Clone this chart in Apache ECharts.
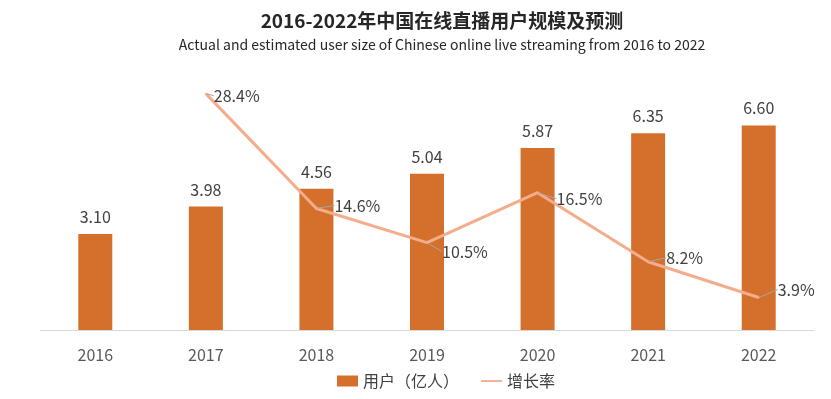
<!DOCTYPE html>
<html>
<head>
<meta charset="utf-8">
<script src="https://cdn.jsdelivr.net/npm/echarts@6/dist/echarts.min.js"></script>
<style>
    html, body { margin: 0; padding: 0; background: #fff; }
    .main { width: 831px; height: 399px; }
</style>
</head>
<body>
<div class="main"></div>
<script>
var years = ['2016', '2017', '2018', '2019', '2020', '2021', '2022'];
var users = [3.10, 3.98, 4.56, 5.04, 5.87, 6.35, 6.60];
var growth = ['-', 28.4, 14.6, 10.5, 16.5, 8.2, 3.9];

// 增长率标签的偏移
var labelDx = [0, -2, 8, 5, 9, 8, 9];
var labelDy = [0, 2, -3, 9, 6, -4, -8];

var myChart = echarts.init(document.querySelector('.main'));
var font = '"Noto Sans CJK SC", "Noto Sans", sans-serif';

var option = {
    textStyle: { fontFamily: font },
    title: {
        text: '2016-2022年中国在线直播用户规模及预测',
        subtext: 'Actual and estimated user size of Chinese online live streaming from 2016 to 2022',
        left: 437,
        textAlign: 'center',
        top: 6,
        itemGap: 8,
        textStyle: { fontFamily: font, fontSize: 19, fontWeight: 'bold', color: '#262626' },
        subtextStyle: { fontFamily: font, fontSize: 14, color: '#262626' }
    },
    legend: {
        top: 368,
        left: 332,
        itemGap: 22,
        itemWidth: 21,
        itemHeight: 11,
        textStyle: { fontFamily: font, fontSize: 16, color: '#404040' },
        data: [
            { name: '用户（亿人）', icon: 'rect' },
            { name: '增长率', icon: 'path://M0,5 L23,5 L23,7 L0,7 Z', itemStyle: { color: '#F3AC8C' } }
        ]
    },
    grid: { left: 40, right: 17, top: 82, bottom: 69 },
    xAxis: {
        type: 'category',
        data: years,
        axisLine: { lineStyle: { color: '#d9d9d9', width: 1 } },
        axisTick: { show: false },
        axisLabel: { color: '#595959', fontSize: 16, margin: 17, fontFamily: font }
    },
    yAxis: [
        { type: 'value', min: 0, max: 8, show: false, splitLine: { show: false } },
        { type: 'value', min: 0, max: 29.8, show: false, splitLine: { show: false } }
    ],
    series: [
        {
            name: '用户（亿人）',
            type: 'bar',
            data: users,
            barWidth: 34,
            itemStyle: { color: '#D4702B' },
            label: {
                show: true,
                position: 'top',
                distance: 9,
                color: '#404040',
                fontSize: 16,
                fontFamily: font,
                formatter: function (p) { return p.value.toFixed(2); }
            }
        },
        {
            name: '增长率',
            type: 'line',
            yAxisIndex: 1,
            data: growth,
            symbol: 'circle',
            symbolSize: 2,
            showSymbol: true,
            lineStyle: { color: '#F3AC8C', width: 3 },
            itemStyle: { color: '#F3AC8C' },
            label: {
                show: true,
                position: 'right',
                distance: 9,
                color: '#404040',
                fontSize: 16,
                fontFamily: font,
                formatter: function (p) { return p.value.toFixed(1) + '%'; }
            },
            labelLine: { show: true, lineStyle: { color: '#a6a6a6', width: 1 } },
            labelLayout: function (p) {
                return { dx: labelDx[p.dataIndex], dy: labelDy[p.dataIndex] };
            }
        }
    ]
};

myChart.setOption(option);

window.addEventListener('resize', function () {
    myChart.resize();
});
</script>
</body>
</html>
